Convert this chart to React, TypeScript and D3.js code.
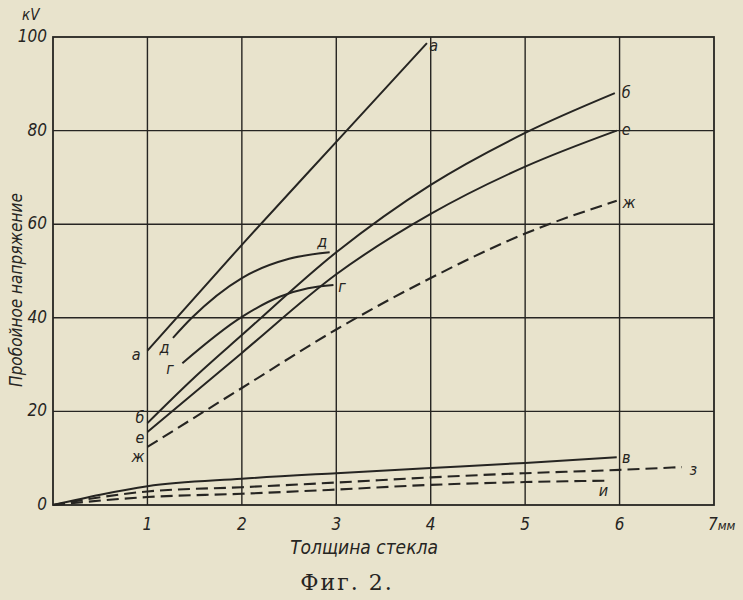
import React from "react";
import * as d3 from "d3";

const W = 743;
const H = 600;

const xTicks = [1, 2, 3, 4, 5, 6];
const xTickLabels = ["1", "2", "3", "4", "5", "6"];
const yTicks = [0, 20, 40, 60, 80, 100];
const yTickLabels = ["0", "20", "40", "60", "80", "100"];

// [thickness mm, kV]
const curveA: [number, number][] = [[1, 33], [2, 55.6], [3, 77.6], [3.96, 98.7]];
const curveD: [number, number][] = [[1.27, 35.7], [1.47, 40], [2.0, 48.5], [2.5, 52.6], [2.93, 54]];
const curveG: [number, number][] = [[1.37, 30.3], [2.0, 40.2], [2.4, 44.5], [2.7, 46.3], [2.97, 47]];
const curveB: [number, number][] = [[1, 17.5], [1.5, 27.3], [2, 36.3], [3, 54], [4, 68.4], [5, 79.5], [5.95, 88]];
const curveE: [number, number][] = [[1, 15.6], [2, 32.5], [3, 49.3], [4, 62.2], [5, 72.3], [5.97, 80]];
const curveZh: [number, number][] = [[1, 12.4], [2, 25], [3, 37.5], [4, 48.5], [5, 58], [5.97, 65]];
const curveV: [number, number][] = [[0, 0], [0.5, 2.2], [1, 4], [2, 5.6], [3, 6.8], [4, 7.9], [5, 9], [5.97, 10.2]];
const curveZ: [number, number][] = [[0, 0], [1, 2.9], [2, 3.8], [3, 4.8], [4, 5.9], [5, 6.8], [6, 7.5], [6.66, 8.1]];
const curveI: [number, number][] = [[0, 0], [1, 1.7], [2, 2.4], [3, 3.3], [4, 4.3], [5, 4.9], [5.85, 5.2]];

const curves = [
  { name: "а", pts: curveA, dashed: false },
  { name: "д", pts: curveD, dashed: false },
  { name: "г", pts: curveG, dashed: false },
  { name: "б", pts: curveB, dashed: false },
  { name: "е", pts: curveE, dashed: false },
  { name: "ж", pts: curveZh, dashed: true },
  { name: "в", pts: curveV, dashed: false },
  { name: "з", pts: curveZ, dashed: true },
  { name: "и", pts: curveI, dashed: true },
];

// curve labels
const labelNames = ["а", "а", "д", "д", "г", "г", "б", "б", "е", "е", "ж", "ж", "в", "з", "и"];
const labelX = [0.88, 4.03, 1.18, 2.85, 1.24, 3.06, 0.92, 6.07, 0.92, 6.07, 0.9, 6.1, 6.07, 6.78, 5.83];
const labelY = [32, 98, 33.5, 56, 29, 46.5, 18.5, 88, 14.3, 80, 10.2, 64.5, 10, 7.4, 2.8];

const INK = "#262522";
const PAPER = "#e8e3cc";

export default function App() {
  const x = d3.scaleLinear().domain([0, 7]).range([53, 714]);
  const y = d3.scaleLinear().domain([0, 100]).range([505, 37]);
  const line = d3
    .line<[number, number]>()
    .x((d) => x(d[0]))
    .y((d) => y(d[1]))
    .curve(d3.curveMonotoneX);

  const italic = "'Liberation Sans Narrow', 'DejaVu Sans Condensed', 'Liberation Sans', sans-serif";

  return (
    <svg
      width={W}
      height={H}
      style={{ position: "absolute", left: 0, top: 0, background: PAPER }}
    >
      <rect x={0} y={0} width={W} height={H} fill={PAPER} />
      {/* grid */}
      {xTicks.map((t) => (
        <line key={"gx" + t} x1={x(t)} x2={x(t)} y1={y(100)} y2={y(0)} stroke={INK} strokeWidth={1.4} />
      ))}
      {yTicks.filter((t) => t > 0 && t < 100).map((t) => (
        <line key={"gy" + t} x1={x(0)} x2={x(7)} y1={y(t)} y2={y(t)} stroke={INK} strokeWidth={1.4} />
      ))}
      <rect
        x={x(0)}
        y={y(100)}
        width={x(7) - x(0)}
        height={y(0) - y(100)}
        fill="none"
        stroke={INK}
        strokeWidth={1.8}
      />
      {/* curves */}
      {curves.map((c) => (
        <path
          key={c.name}
          d={line(c.pts) || ""}
          fill="none"
          stroke={INK}
          strokeWidth={c.dashed ? 2.1 : 2}
          strokeDasharray={c.dashed ? "12 6" : undefined}
        />
      ))}
      {/* curve labels */}
      {labelNames.map((n, i) => (
        <text
          key={"lb" + i}
          x={x(labelX[i])}
          y={y(labelY[i])}
          fontFamily={italic}
          fontStyle="italic"
          fontSize={16}
          fill={INK}
          textAnchor="middle"
          dominantBaseline="middle"
        >
          {n}
        </text>
      ))}
      {/* y tick labels */}
      {yTicks.map((t, i) => (
        <text
          key={"yt" + t}
          x={x(0) - 6}
          y={y(t)}
          fontFamily={italic}
          fontStyle="italic"
          fontSize={17}
          fill={INK}
          textAnchor="end"
          dominantBaseline="middle"
        >
          {yTickLabels[i]}
        </text>
      ))}
      <text x={22} y={20} fontFamily={italic} fontStyle="italic" fontSize={15} fill={INK}>
        кV
      </text>
      {/* x tick labels */}
      {xTicks.map((t, i) => (
        <text
          key={"xt" + t}
          x={x(t)}
          y={y(0) + 25}
          fontFamily={italic}
          fontStyle="italic"
          fontSize={17}
          fill={INK}
          textAnchor="middle"
        >
          {xTickLabels[i]}
        </text>
      ))}
      <text x={x(7) - 6} y={y(0) + 25} fontFamily={italic} fontStyle="italic" fontSize={17} fill={INK}>
        7<tspan fontSize={13}>мм</tspan>
      </text>
      {/* axis titles */}
      <text
        x={364}
        y={554}
        fontFamily={italic}
        fontStyle="italic"
        fontSize={19}
        fill={INK}
        textAnchor="middle"
      >
        Толщина стекла
      </text>
      <text
        transform={`translate(17, 290) rotate(-90)`}
        fontFamily={italic}
        fontStyle="italic"
        fontSize={17}
        fill={INK}
        textAnchor="middle"
        dominantBaseline="middle"
      >
        Пробойное напряжение
      </text>
      <text
        x={347}
        y={590}
        fontFamily="'DejaVu Serif', 'Liberation Serif', serif"
        fontSize={22}
        letterSpacing={2}
        fill={INK}
        textAnchor="middle"
      >
        Фиг. 2.
      </text>
    </svg>
  );
}
